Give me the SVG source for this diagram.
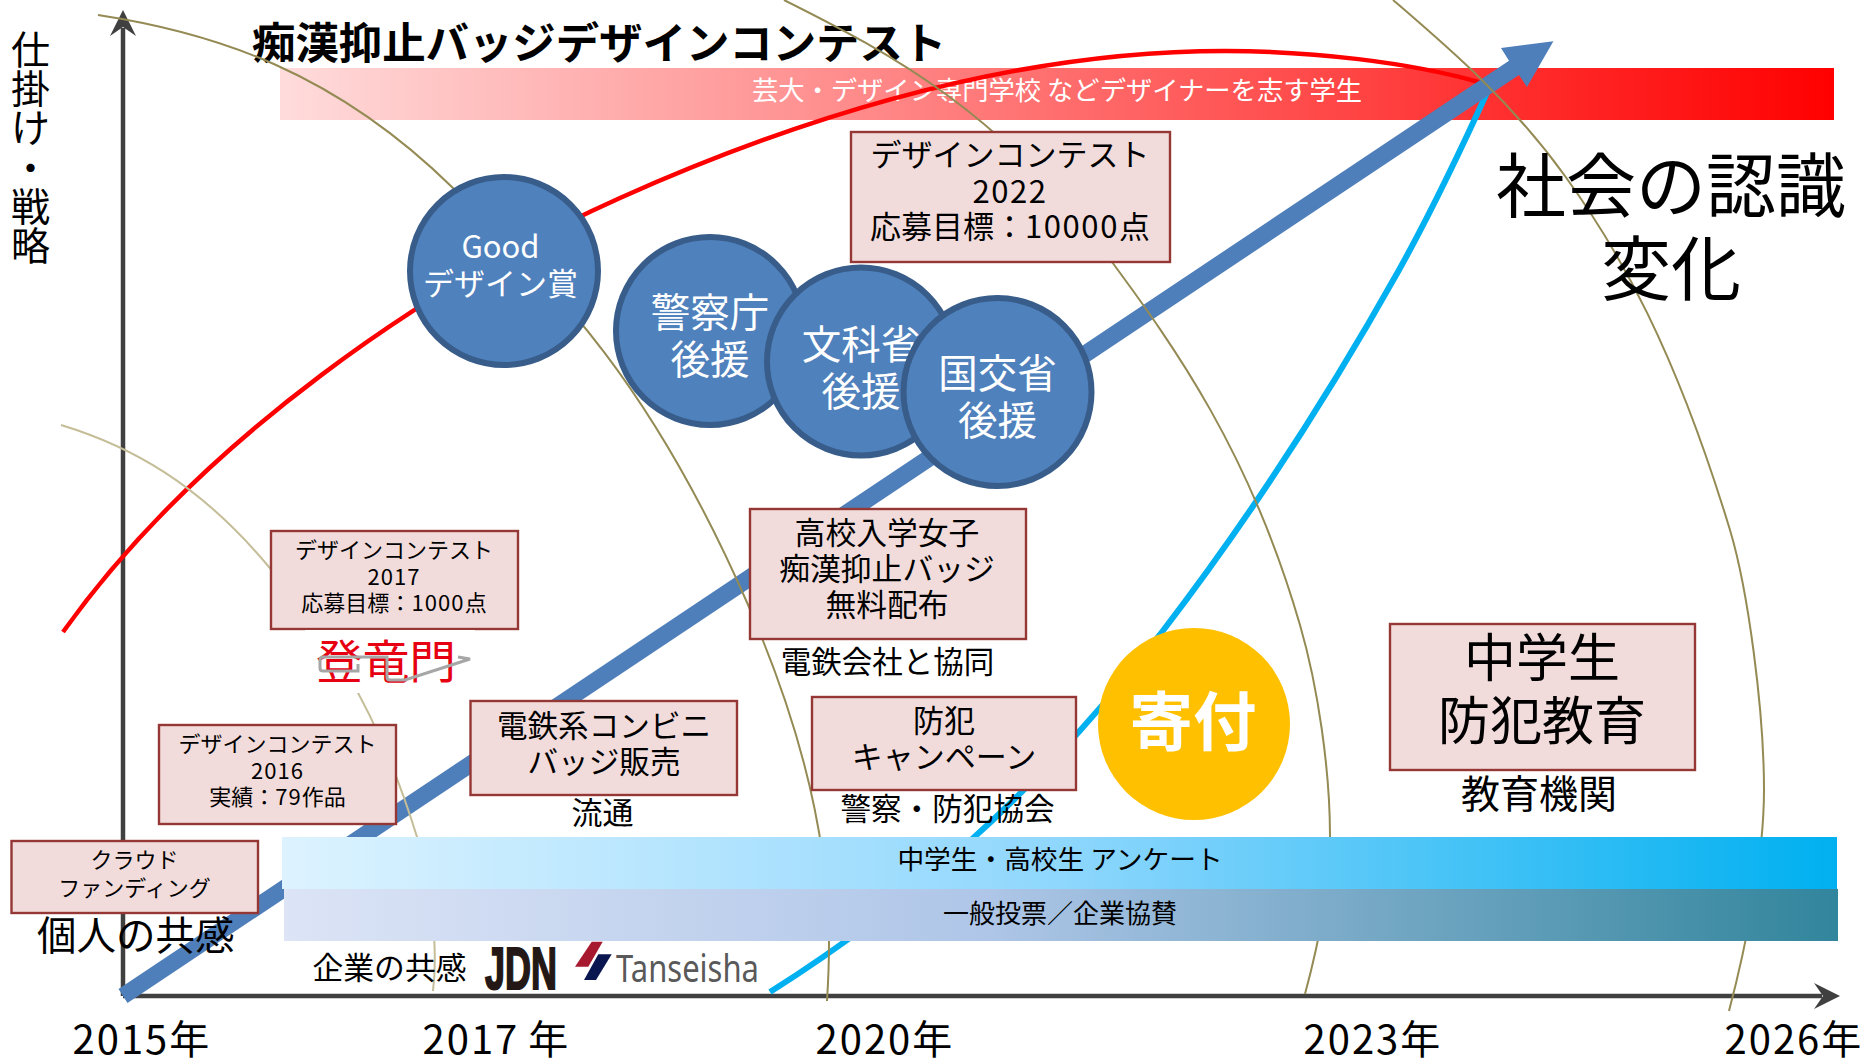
<svg xmlns="http://www.w3.org/2000/svg" width="1862" height="1061" viewBox="0 0 1862 1061">
<style>
text{font-family:"Noto Sans CJK JP","Noto Sans","Liberation Sans",sans-serif;fill:#000}
.m{text-anchor:middle}
.d{letter-spacing:.05em}
.box{fill:#F2DCDB;stroke:#953735;stroke-width:2.4}
.disc{fill:#4F81BD;stroke:#385D8A;stroke-width:6}
.w{fill:#fff}
.arc{fill:none;stroke:#948A54;stroke-width:2}
.arc0{fill:none;stroke:#C4BD97;stroke-width:2}
.axis{fill:none;stroke:#404040;stroke-width:4.5}
</style>
<defs>
<linearGradient id="gRed"><stop offset="0" stop-color="#FFDCDC"/><stop offset="1" stop-color="#FF0000"/></linearGradient>
<linearGradient id="gCyan"><stop offset="0" stop-color="#DDF3FF"/><stop offset="0.5" stop-color="#8FD7FD"/><stop offset="1" stop-color="#00B0F0"/></linearGradient>
<linearGradient id="gTeal"><stop offset="0" stop-color="#DCE4F6"/><stop offset="0.45" stop-color="#AFC6E8"/><stop offset="1" stop-color="#31859C"/></linearGradient>
<marker id="stealth" markerUnits="userSpaceOnUse" markerWidth="26" markerHeight="26" refX="8" refY="13" orient="auto" overflow="visible"><path d="M26,13L0,0L9,13L0,26Z" fill="#404040"/></marker>
</defs>
<rect width="1862" height="1061" fill="#fff"/>
<g id="band-designers"><rect x="280" y="68" width="1554" height="52" fill="url(#gRed)"/><text class="m w" x="1057" y="100" font-size="26.300">芸大・デザイン専門学校 などデザイナーを志す学生</text></g>
<g id="title"><text x="252" y="59" font-size="43.400" font-weight="700">痴漢抑止バッジデザインコンテスト</text></g>
<g id="connectors">
<path class="axis" d="M123,996V28" marker-end="url(#stealth)"/>
<path class="axis" d="M123,996H1822" marker-end="url(#stealth)"/>
<path fill="none" stroke="#FF0000" stroke-width="4.500" d="M63,632C200,440 430,283 620,198C810,113 1020,51 1225,51C1310,51 1410,62 1482,83"/>
<path fill="none" stroke="#00B0F0" stroke-width="6" d="M770,992C900,910 1032,801 1162,632C1241,529 1320,411 1399,270C1429,216 1460,152 1490,86"/>
<polygon fill="#4F7FBA" points="118.500,989 127.500,1003 1519,75 1527,87 1553.400,41.200 1501,48 1509,60.800"/>
<path class="arc0" d="M61,425C130,446 199,483 269,567C319,627 372,691 417,837C432,886 438,950 433,991"/>
<path class="arc" d="M98,15C216,33 335,72 453,188C553,286 649,377 749,607C795,713 829,830 829,944C829,965 828,985 827,1001"/>
<path class="arc" d="M784,0C894,55 1002,113 1112,262C1174,346 1250,452 1300,625C1318,687 1330,770 1330,836C1330,890 1318,946 1305,994"/>
<path class="arc" d="M1393,0C1450,49 1510,100 1565,176C1620,252 1675,349 1730,530C1748,590 1764,710 1764,790C1764,860 1745,950 1729,1011"/>
</g>
<g id="band-survey"><rect x="282" y="837" width="1555" height="52" fill="url(#gCyan)"/><text class="m" x="1060" y="869" font-size="26.700">中学生・高校生 アンケート</text></g>
<g id="band-vote"><rect x="284" y="889" width="1554" height="52" fill="url(#gTeal)"/><text class="m" x="1060" y="923" font-size="26">一般投票／企業協賛</text></g>
<g id="y-label"><text x="11 11 11 11 11 11" y="64 103.200 142.400 181.600 220.800 260" font-size="39">仕掛け・戦略</text></g>
<g id="society-change"><text class="m" font-size="70"><tspan x="1671" y="212">社会の認識</tspan><tspan x="1671" y="295">変化</tspan></text></g>
<g id="box-crowdfunding"><rect class="box" x="11.500" y="841" width="246.500" height="72"/><text class="m" font-size="22"><tspan x="134.500" y="868">クラウド</tspan><tspan x="134.500" y="896">ファンディング</tspan></text></g>
<g id="empathy-individual"><text x="37" y="950" font-size="39.500">個人の共感</text></g>
<g id="box-contest-2016"><rect class="box" x="159" y="725" width="237" height="99"/><text class="m" font-size="22"><tspan x="277.500" y="752">デザインコンテスト</tspan><tspan x="277.500" y="779" class="d">2016</tspan><tspan x="277.500" y="805">実績：<tspan class="d">79</tspan>作品</tspan></text></g>
<g id="box-contest-2017"><rect class="box" x="271" y="531" width="247" height="98"/><text class="m" font-size="22"><tspan x="394" y="558">デザインコンテスト</tspan><tspan x="394" y="585" class="d">2017</tspan><tspan x="394" y="611">応募目標：<tspan class="d">1000</tspan>点</tspan></text></g>
<g id="logo-tourokumon"><rect x="305" y="630" width="170" height="63" fill="#fff"/><text x="316" y="678" font-size="46" style="fill:#E60012" textLength="140" lengthAdjust="spacingAndGlyphs">登竜門</text><path fill="none" stroke="#A6A6A6" stroke-width="3" d="M358,657H323Q320,657 320,660V668Q320,671 323,671H358V664M358,657H387V677Q387,680 390,680H405L470,659L458,657"/></g>
<g id="box-konbini"><rect class="box" x="470.500" y="701" width="266.500" height="94"/><text class="m" font-size="30.600"><tspan x="604" y="737">電鉄系コンビニ</tspan><tspan x="604" y="773">バッジ販売</tspan></text></g>
<g id="label-ryutsu"><text class="m" x="602.500" y="824" font-size="31">流通</text></g>
<g id="box-free-badge"><rect class="box" x="750" y="509" width="276" height="130"/><text class="m" font-size="30.800"><tspan x="887" y="544">高校入学女子</tspan><tspan x="887" y="580">痴漢抑止バッジ</tspan><tspan x="887" y="616">無料配布</tspan></text></g>
<g id="label-railway"><text class="m" x="887.500" y="673" font-size="30.500">電鉄会社と協同</text></g>
<g id="box-campaign"><rect class="box" x="812" y="697" width="264" height="93"/><text class="m" font-size="31"><tspan x="944" y="732">防犯</tspan><tspan x="944" y="768">キャンペーン</tspan></text></g>
<g id="label-police"><text class="m" x="947.500" y="820" font-size="30.600">警察・防犯協会</text></g>
<g id="box-contest-2022"><rect class="box" x="851" y="132" width="319" height="130"/><text class="m" font-size="31"><tspan x="1010" y="166">デザインコンテスト</tspan><tspan x="1010" y="202.500" class="d">2022</tspan><tspan x="1010" y="238">応募目標：<tspan class="d">10000</tspan>点</tspan></text></g>
<g id="box-education"><rect class="box" x="1390" y="624" width="305" height="146"/><text class="m" font-size="52"><tspan x="1542" y="677">中学生</tspan><tspan x="1542" y="740">防犯教育</tspan></text></g>
<g id="label-education"><text class="m" x="1539" y="808" font-size="39">教育機関</text></g>
<g id="node-good-design"><circle class="disc" cx="504" cy="271" r="94"/><text class="m w" font-size="31"><tspan x="500.500" y="258">Good</tspan><tspan x="500.500" y="295">デザイン賞</tspan></text></g>
<g id="node-police"><circle class="disc" cx="710" cy="331" r="94"/><text class="m w" font-size="39.500"><tspan x="710" y="327">警察庁</tspan><tspan x="710" y="374">後援</tspan></text></g>
<g id="node-mext"><circle class="disc" cx="861" cy="361.500" r="94"/><text class="m w" font-size="39.500"><tspan x="861" y="359">文科省</tspan><tspan x="861" y="406">後援</tspan></text></g>
<g id="node-mlit"><circle class="disc" cx="997.500" cy="392" r="94"/><text class="m w" font-size="39.500"><tspan x="997.500" y="388">国交省</tspan><tspan x="997.500" y="435">後援</tspan></text></g>
<g id="node-donation"><circle cx="1194" cy="724" r="96" fill="#FFC000"/><text class="m w" x="1193" y="745" font-size="63.500" font-weight="700">寄付</text></g>
<g id="empathy-company"><text x="312.500" y="979" font-size="30.800">企業の共感</text></g>
<g id="logo-jdn"><text x="485" y="989" font-size="60" font-weight="700" style="font-family:'Liberation Sans',sans-serif;fill:#231815;stroke:#231815;stroke-width:2" textLength="72" lengthAdjust="spacingAndGlyphs">JDN</text></g>
<g id="logo-tanseisha"><polygon fill="#A6192E" points="575,966.700 591.700,941.700 602.700,941.700 588.300,966.700"/><polygon fill="#0A1650" points="584,980 598.300,954.300 611.700,954.300 596,980"/><text x="616" y="982" font-size="38" style="font-family:'Noto Sans',sans-serif;fill:#595959" textLength="143" lengthAdjust="spacingAndGlyphs">Tanseisha</text></g>
<g id="year-labels" font-size="40"><text x="72.500" y="1054"><tspan class="d">2015</tspan>年</text><text x="422.500" y="1054"><tspan class="d">2017</tspan> 年</text><text x="815.500" y="1054"><tspan class="d">2020</tspan>年</text><text x="1303.500" y="1054"><tspan class="d">2023</tspan>年</text><text x="1724.500" y="1054"><tspan class="d">2026</tspan>年</text></g>
</svg>
